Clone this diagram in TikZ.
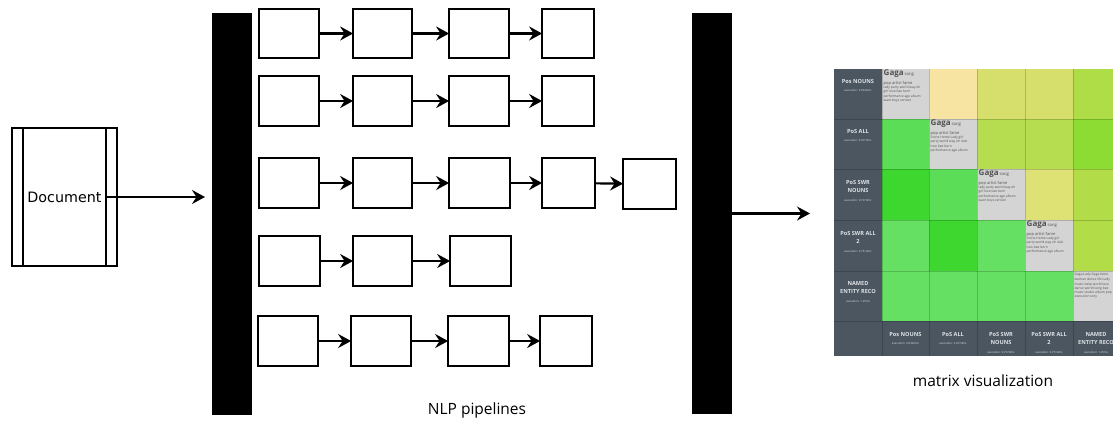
\documentclass[tikz,border=0pt]{standalone}
\usepackage{fontspec}
\setmainfont{Open Sans}
\newfontfamily\docfont{DejaVu Sans}
\usetikzlibrary{arrows.meta,calc}

% cell colours of the similarity matrix
\definecolor{mdark}{HTML}{4B5661}
\definecolor{mgray}{HTML}{D4D4D4}
\definecolor{mlabel}{HTML}{DDE2E6}
\definecolor{mtext}{HTML}{505050}
\definecolor{yelA}{HTML}{F7E4A2}
\definecolor{yelB}{HTML}{DEE174}
\definecolor{ygA}{HTML}{D6DE6C}
\definecolor{ygB}{HTML}{B6DD50}
\definecolor{ygC}{HTML}{B2DD48}
\definecolor{ygD}{HTML}{AEDD48}
\definecolor{ygE}{HTML}{8DDC33}
\definecolor{grA}{HTML}{5CDD57}
\definecolor{grB}{HTML}{3DD72F}
\definecolor{grC}{HTML}{66E062}

\tikzset{
  pbox/.style={draw, line width=2.2pt, fill=white, outer sep=0pt},
  bar/.style={fill=black, inner sep=0pt, outer sep=0pt},
  flow/.style={line width=2.2pt, -{Stealth[length=13pt, width=14pt, inset=4.5pt]}},
  caption/.style={font=\fontsize{15.5}{18}\selectfont, inner sep=0pt},
  mlab/.style={anchor=north, align=center, text=mlabel, inner sep=0pt,
    font=\fontsize{5.6}{8.5}\selectfont\bfseries},
  diagtxt/.style={anchor=north west, align=left, text=mtext, inner sep=0pt,
    font=\fontsize{3.3}{4.2}\selectfont},
  grid/.style={draw=black, draw opacity=0.18, line width=1pt}
}

% step box given by its outer edges: name, x1, x2, y1, y2
\newcommand\stepbox[5]{%
  \node[pbox, minimum width={(#3-#2-2.2)*1pt}, minimum height={(#5-#4-2.2)*1pt}]
    (#1) at ({(#2+#3)/2},{(#4+#5)/2}) {};}
\newcommand\exectxt[1]{{\fontsize{2.8}{3}\selectfont\mdseries execution: #1}}
\newcommand\gagahead{{\fontsize{8}{8}\selectfont\bfseries Gaga} {\fontsize{4.2}{4.2}\selectfont song}\\[2.5pt]
  {\fontsize{4}{4}\selectfont pop artist fame}}

\begin{document}
\begin{tikzpicture}[x=1pt, y=-1pt]
\useasboundingbox (0,0) rectangle (1113,421);

% input document
\node[draw, line width=2.2pt, outer sep=0pt, minimum width=105pt, minimum height=138pt,
  font=\docfont\fontsize{14.3}{16}\selectfont] (doc) at (64.5,197) {Document};
\draw[line width=2.2pt] ([xshift=11pt]doc.north west) -- ([xshift=11pt]doc.south west);
\draw[line width=2.2pt] ([xshift=-11pt]doc.north east) -- ([xshift=-11pt]doc.south east);

% splitter and merger bars
\node[bar, minimum width=40pt, minimum height=402pt] (lbar) at (232,214) {};
\node[bar, minimum width=40pt, minimum height=401pt] (rbar) at (712,213.5) {};

\draw[flow, shorten >=7pt] ([xshift=-11pt]doc.east) -- (doc.east -| lbar.west);

% pipelines
\stepbox{a1}{258}{320}{8}{59}
\stepbox{a2}{352}{413}{8}{59}
\stepbox{a3}{448}{510}{8}{59}
\stepbox{a4}{541}{595}{8}{59}

\stepbox{b1}{258}{320}{75}{127}
\stepbox{b2}{352}{413}{75}{127}
\stepbox{b3}{448}{510}{75}{127}
\stepbox{b4}{541}{595}{75}{127}

\stepbox{c1}{258}{320}{157}{209}
\stepbox{c2}{352}{413}{157}{209}
\stepbox{c3}{448}{511}{157}{209}
\stepbox{c4}{541}{596}{157}{209}
\stepbox{c5}{622}{677}{158}{210}

\stepbox{d1}{258}{321}{235}{287}
\stepbox{d2}{352}{413}{235}{287}
\stepbox{d3}{449}{512}{235}{287}

\stepbox{e1}{257}{319}{315}{367}
\stepbox{e2}{350}{412}{315}{367}
\stepbox{e3}{447}{510}{315}{367}
\stepbox{e4}{539}{593}{315}{367}

\foreach \p/\q in {a1/a2,a2/a3,a3/a4,b1/b2,b2/b3,b3/b4,c1/c2,c2/c3,c3/c4,c4/c5,
                   d1/d2,d2/d3,e1/e2,e2/e3,e3/e4}
  \draw[flow] (\p) -- (\q);

\node[caption] (nlpcap) at (477,410) {NLP pipelines};

% output arrow
\coordinate (mvin) at (810,213.5);
\draw[flow] (rbar.east) -- (mvin);

% similarity matrix
\begin{scope}
\clip (834,60) rectangle (1113,360);
\fill[mdark] (834,69) rectangle (882,356);
\fill[mdark] (882,321) rectangle (1121,356);
\foreach \xa/\xb/\ya/\yb/\c in {
  882/929/69/119/mgray, 929/977/69/119/yelA, 977/1025/69/119/ygA, 1025/1073/69/119/ygA, 1073/1121/69/119/ygD,
  882/929/119/169/grA, 929/977/119/169/mgray, 977/1025/119/169/ygB, 1025/1073/119/169/ygB, 1073/1121/119/169/ygE,
  882/929/169/220/grB, 929/977/169/220/grA, 977/1025/169/220/mgray, 1025/1073/169/220/yelB, 1073/1121/169/220/ygC,
  882/929/220/271/grC, 929/977/220/271/grB, 977/1025/220/271/grC, 1025/1073/220/271/mgray, 1073/1121/220/271/ygC,
  882/929/271/321/grC, 929/977/271/321/grC, 977/1025/271/321/grC, 1025/1073/271/321/grC, 1073/1121/271/321/mgray}
  \fill[\c] (\xa,\ya) rectangle (\xb,\yb);
\foreach \yy in {119,169,220,271,321}
  \draw[grid] (834,\yy) -- (1121,\yy);
\foreach \xx in {882,929,977,1025,1073}
  \draw[grid] (\xx,69) -- (\xx,356);

% row labels
\node[mlab] (rl1) at (858,79) {Pos NOUNS\\\exectxt{0.0326ms}};
\node[mlab] (rl2) at (858,129) {PoS ALL\\\exectxt{0.4774ms}};
\node[mlab] (rl3) at (858,180) {PoS SWR\\NOUNS\\\exectxt{0.7274ms}};
\node[mlab] (rl4) at (858,231) {PoS SWR ALL\\2\\\exectxt{0.7614ms}};
\node[mlab] (rl5) at (858,281) {NAMED\\ENTITY RECO\\\exectxt{1.25ms}};

% column labels
\node[mlab] (cl1) at (905.5,332) {Pos NOUNS\\\exectxt{0.0326ms}};
\node[mlab] (cl2) at (953,332) {PoS ALL\\\exectxt{0.4774ms}};
\node[mlab] (cl3) at (1001,332) {PoS SWR\\NOUNS\\\exectxt{0.7274ms}};
\node[mlab] (cl4) at (1049,332) {PoS SWR ALL\\2\\\exectxt{0.7614ms}};
\node[mlab] (cl5) at (1096,332) {NAMED\\ENTITY RECO\\\exectxt{1.25ms}};

% diagonal cells: top terms of each pipeline
\node[diagtxt] (dg1) at (883.5,70) {\gagahead\\
  lady party world way oh\\girl love bee born\\performance age album\\want boys version};
\node[diagtxt] (dg2) at (930.5,120) {\gagahead\\
  Stone Home Lady girl\\party world way oh club\\love bee born\\performance age album};
\node[diagtxt] (dg3) at (978.5,170) {\gagahead\\
  lady party world way oh\\girl love bee born\\performance age album\\want boys version};
\node[diagtxt] (dg4) at (1026.5,221) {\gagahead\\
  Stone Home Lady girl\\party world way oh club\\love bee born\\performance age album};
\node[diagtxt] (dg5) at (1074.5,273) {Gaga Lady Gaga fame\\[1pt]
  woman dance life Lady\\music baby world love\\dance world song bee\\
  music studio album pop\\execution very};
\end{scope}

\node[caption] (mvcap) at (983,381) {matrix visualization};
\end{tikzpicture}
\end{document}
